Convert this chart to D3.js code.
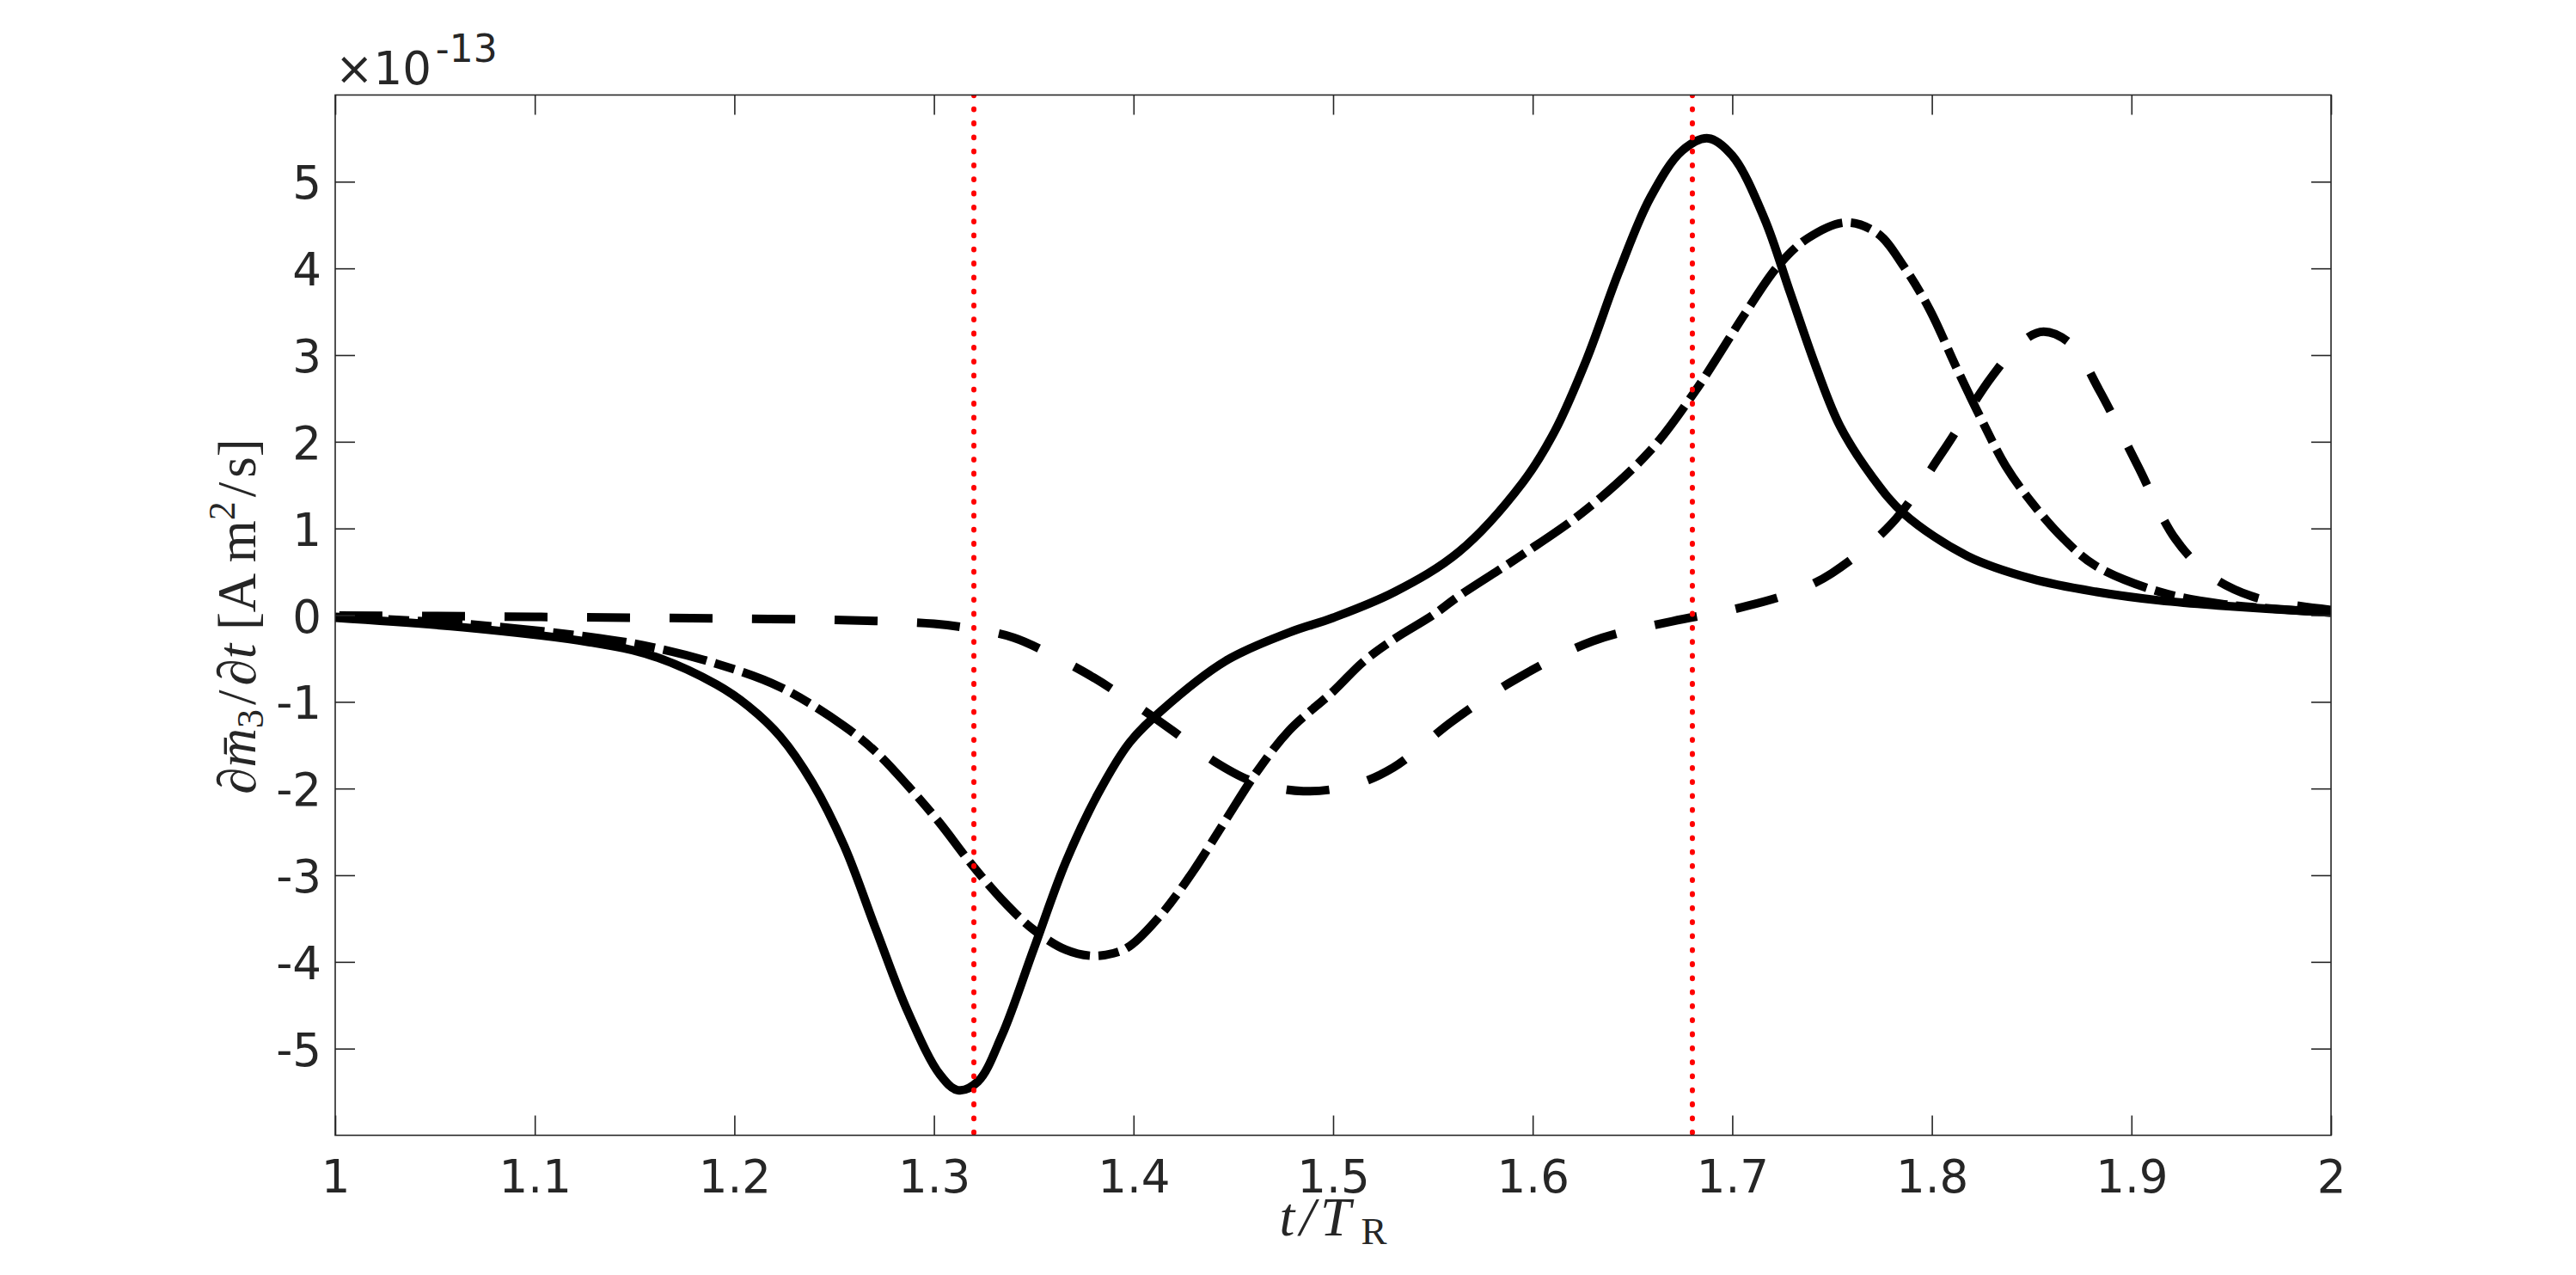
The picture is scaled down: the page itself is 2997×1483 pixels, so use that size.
<!DOCTYPE html>
<html>
<head>
<meta charset="utf-8">
<script src="https://cdn.jsdelivr.net/npm/d3@7"></script>
<style>
  html, body { margin: 0; padding: 0; background: #ffffff; }
  svg { display: block; }
</style>
</head>
<body>
<svg id="chart" width="2997" height="1483"></svg>
<script>
// ---------------- data (values in units of 1e-13 A m^2/s) ----------------
const xTicks = [1, 1.1, 1.2, 1.3, 1.4, 1.5, 1.6, 1.7, 1.8, 1.9, 2];
const xTickLabels = ["1", "1.1", "1.2", "1.3", "1.4", "1.5", "1.6", "1.7", "1.8", "1.9", "2"];
const yTicks = [-5, -4, -3, -2, -1, 0, 1, 2, 3, 4, 5];
const yTickLabels = ["-5", "-4", "-3", "-2", "-1", "0", "1", "2", "3", "4", "5"];
const markerTimes = [1.32, 1.68];

// solid curve
const tSolid = [1.00, 1.064, 1.127, 1.159, 1.191, 1.207, 1.223, 1.239, 1.255, 1.271, 1.287, 1.303, 1.312, 1.322, 1.334, 1.350, 1.366, 1.382, 1.398, 1.414, 1.446, 1.478, 1.50, 1.531, 1.563, 1.595, 1.611, 1.627, 1.643, 1.659, 1.675, 1.688, 1.700, 1.716, 1.729, 1.742, 1.754, 1.770, 1.786, 1.818, 1.850, 1.882, 1.914, 1.945, 2.00];
const vSolid = [-0.03, -0.14, -0.31, -0.47, -0.80, -1.05, -1.40, -1.93, -2.66, -3.63, -4.58, -5.30, -5.48, -5.38, -4.85, -3.85, -2.85, -2.07, -1.47, -1.10, -0.53, -0.20, -0.03, 0.27, 0.73, 1.53, 2.12, 2.95, 3.95, 4.82, 5.36, 5.50, 5.30, 4.58, 3.72, 2.86, 2.18, 1.60, 1.17, 0.68, 0.42, 0.27, 0.17, 0.11, 0.03];

// dash-dot curve
const tDashDot = [1.00, 1.064, 1.127, 1.159, 1.191, 1.223, 1.255, 1.271, 1.287, 1.303, 1.318, 1.334, 1.350, 1.366, 1.379, 1.390, 1.398, 1.414, 1.430, 1.446, 1.462, 1.478, 1.50, 1.515, 1.531, 1.55, 1.563, 1.595, 1.627, 1.659, 1.681, 1.691, 1.707, 1.723, 1.738, 1.757, 1.773, 1.786, 1.799, 1.812, 1.825, 1.837, 1.850, 1.866, 1.882, 1.914, 1.945, 2.00];
const vDashDot = [-0.02, -0.10, -0.25, -0.37, -0.56, -0.83, -1.28, -1.58, -1.97, -2.40, -2.85, -3.28, -3.63, -3.86, -3.93, -3.90, -3.82, -3.45, -2.95, -2.37, -1.80, -1.33, -0.88, -0.54, -0.27, 0.00, 0.22, 0.70, 1.22, 1.90, 2.57, 2.92, 3.50, 4.03, 4.35, 4.53, 4.40, 4.02, 3.52, 2.87, 2.25, 1.72, 1.30, 0.88, 0.57, 0.27, 0.13, 0.03];

// dashed curve
const tDashed = [1.00, 1.05, 1.10, 1.15, 1.20, 1.25, 1.28, 1.30, 1.32, 1.34, 1.36, 1.38, 1.40, 1.42, 1.44, 1.46, 1.485, 1.51, 1.53, 1.56, 1.59, 1.63, 1.67, 1.70, 1.73, 1.75, 1.78, 1.805, 1.83, 1.845, 1.856, 1.87, 1.884, 1.903, 1.922, 1.94, 1.96, 1.98, 2.00];
const vDashed = [-0.005, -0.01, -0.02, -0.03, -0.04, -0.055, -0.075, -0.10, -0.16, -0.26, -0.47, -0.72, -1.02, -1.34, -1.68, -1.92, -2.03, -1.96, -1.76, -1.22, -0.76, -0.30, -0.07, 0.065, 0.26, 0.485, 1.06, 1.87, 2.75, 3.15, 3.27, 3.12, 2.59, 1.73, 0.88, 0.45, 0.22, 0.12, 0.06];

(function () {
// ---------------- layout ----------------
const W = 2997, H = 1483;
const L = 390, R = 2712, T = 110.5, B = 1320.5;
const axisColor = "#262626";
const tickFont = "'DejaVu Sans', sans-serif";
const tickSize = 53;
const tickLen = 23;

const svg = d3.select("#chart");
svg.append("rect").attr("width", W).attr("height", H).attr("fill", "#ffffff");

const x = d3.scaleLinear().domain([1, 2]).range([L, R]);
const y = d3.scaleLinear().domain([-6, 6]).range([B, T]);

svg.append("defs").append("clipPath").attr("id", "plotclip")
  .append("rect").attr("x", L).attr("y", T).attr("width", R - L).attr("height", B - T);

const plot = svg.append("g").attr("clip-path", "url(#plotclip)");

const line = d3.line().x(d => x(d[0])).y(d => y(d[1])).curve(d3.curveCatmullRom.alpha(0.5));
const zip = (a, b) => a.map((v, i) => [v, b[i]]);

plot.append("path").datum(zip(tDashed, vDashed))
  .attr("d", line).attr("fill", "none").attr("stroke", "#000")
  .attr("stroke-width", 10).attr("stroke-dasharray", "50,46").attr("stroke-dashoffset", -5);

plot.append("path").datum(zip(tDashDot, vDashDot))
  .attr("d", line).attr("fill", "none").attr("stroke", "#000")
  .attr("stroke-width", 10).attr("stroke-dasharray", "52,10,24,10");

plot.append("path").datum(zip(tSolid, vSolid))
  .attr("d", line).attr("fill", "none").attr("stroke", "#000")
  .attr("stroke-width", 10).attr("stroke-linejoin", "round");

// red dotted markers
plot.selectAll("line.marker").data(markerTimes).enter().append("line")
  .attr("class", "marker")
  .attr("x1", d => x(d)).attr("x2", d => x(d))
  .attr("y1", T).attr("y2", B)
  .attr("stroke", "#ff0000").attr("stroke-width", 6)
  .attr("stroke-linecap", "round").attr("stroke-dasharray", "0.8,15.5");

// ---------------- axes ----------------
const axG = svg.append("g");
const gBottom = axG.append("g").attr("transform", `translate(0,${B})`)
  .call(d3.axisBottom(x).tickValues(xTicks).tickFormat((d, i) => xTickLabels[i]).tickSizeInner(-tickLen).tickSizeOuter(0).tickPadding(0));
const gTop = axG.append("g").attr("transform", `translate(0,${T})`)
  .call(d3.axisTop(x).tickValues(xTicks).tickFormat("").tickSizeInner(-tickLen).tickSizeOuter(0));
const gLeft = axG.append("g").attr("transform", `translate(${L},0)`)
  .call(d3.axisLeft(y).tickValues(yTicks).tickFormat((d, i) => yTickLabels[i]).tickSizeInner(-tickLen).tickSizeOuter(0).tickPadding(0));
const gRight = axG.append("g").attr("transform", `translate(${R},0)`)
  .call(d3.axisRight(y).tickValues(yTicks).tickFormat("").tickSizeInner(-tickLen).tickSizeOuter(0));

[gBottom, gTop, gLeft, gRight].forEach(g => {
  g.select(".domain").remove();
  g.selectAll(".tick line").attr("stroke", axisColor).attr("stroke-width", 1.6);
});

gBottom.selectAll(".tick text")
  .attr("fill", axisColor).attr("font-family", tickFont).attr("font-size", tickSize)
  .attr("y", 0).attr("dy", 0)
  .attr("transform", "translate(0,66.5)");
gLeft.selectAll(".tick text")
  .attr("fill", axisColor).attr("font-family", tickFont).attr("font-size", tickSize)
  .attr("x", -16).attr("dy", 0).attr("y", 19.5);

// box
axG.append("rect").attr("x", L).attr("y", T).attr("width", R - L).attr("height", B - T)
  .attr("fill", "none").attr("stroke", axisColor).attr("stroke-width", 1.6);

// exponent label
const expo = svg.append("text").attr("x", 390).attr("y", 98)
  .attr("fill", axisColor).attr("font-family", tickFont).attr("font-size", tickSize);
expo.append("tspan").text("\u00d710");
expo.append("tspan").attr("font-size", 44).attr("dx", 5).attr("dy", -26).text("-13");

// y label
const serif = "'Liberation Serif', 'DejaVu Serif', serif";
const labSize = 63, subSize = 44;
const ylab = svg.append("text")
  .attr("transform", "translate(297,717) rotate(-90)")
  .attr("text-anchor", "middle")
  .attr("fill", axisColor).attr("font-family", serif).attr("font-size", labSize);
ylab.append("tspan").attr("font-style", "italic").text("\u2202m\u0304");
ylab.append("tspan").attr("font-size", subSize).attr("dy", 9).text("3");
ylab.append("tspan").attr("dy", -9).attr("dx", 5).text("/");
ylab.append("tspan").attr("font-style", "italic").attr("dx", 5).text("\u2202t");
ylab.append("tspan").text(" [A m");
ylab.append("tspan").attr("font-size", subSize).attr("dy", -24).text("2");
ylab.append("tspan").attr("dy", 24).attr("dx", 5).text("/");
ylab.append("tspan").attr("dx", 5).text("s]");

// x label
const xlab = svg.append("text")
  .attr("x", (L + R) / 2).attr("y", 1437)
  .attr("text-anchor", "middle")
  .attr("fill", axisColor).attr("font-family", serif).attr("font-size", 64);
xlab.append("tspan").attr("font-style", "italic").attr("letter-spacing", 6).text("t/T");
xlab.append("tspan").attr("font-size", 45).attr("dy", 10).attr("dx", 6).text("R");
})();
</script>
</body>
</html>
